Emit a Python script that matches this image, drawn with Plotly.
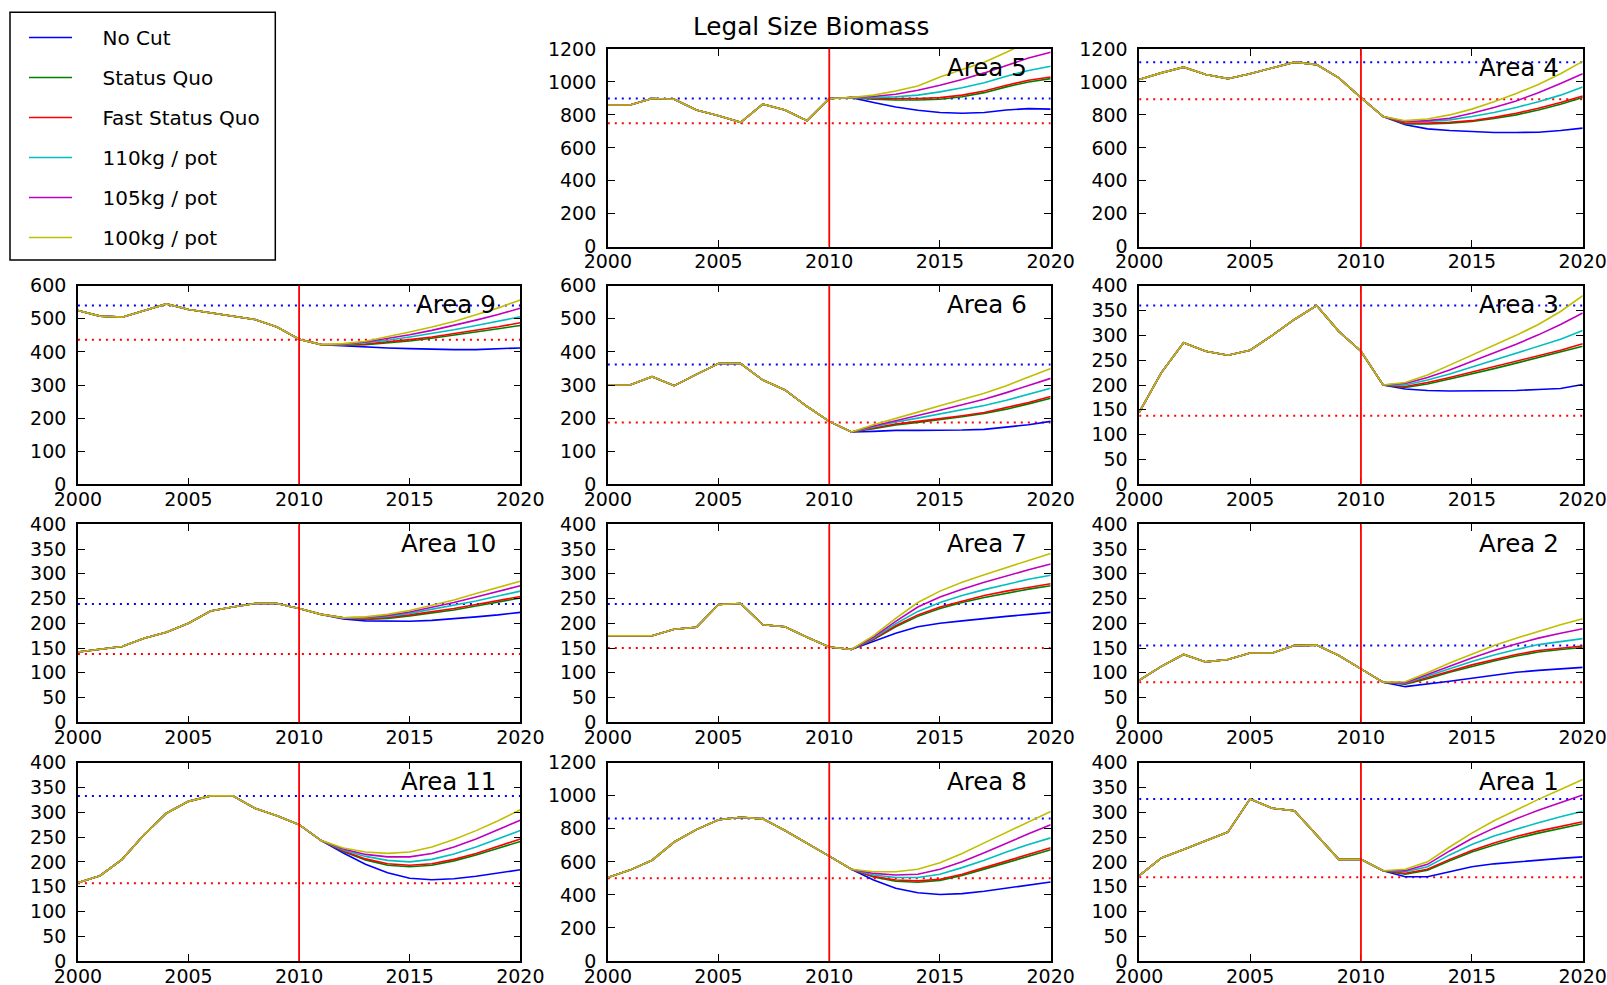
import plotly.graph_objects as go

YEARS = list(range(2000, 2021))
SCENARIOS = ["No Cut", "Status Quo", "Fast Status Quo", "110kg / pot", "105kg / pot", "100kg / pot"]
COLORS = ["#0000ff", "#008000", "#ff0000", "#00bfbf", "#bf00bf", "#bfbf00"]

AREAS = ["Area 5", "Area 4", "Area 9", "Area 6", "Area 3", "Area 10",
         "Area 7", "Area 2", "Area 11", "Area 8", "Area 1"]
AREA_ROW = [0, 0, 1, 1, 1, 2, 2, 2, 3, 3, 3]
AREA_COL = [1, 2, 0, 1, 2, 0, 1, 2, 0, 1, 2]
Y_MAX = [1200, 1200, 600, 600, 400, 400, 400, 400, 400, 1200, 400]
Y_STEP = [200, 200, 100, 100, 50, 50, 50, 50, 50, 200, 50]

# history 2000-2011 (common to all scenarios)
area5_hist = [860, 860, 900, 895, 830, 795, 755, 865, 830, 765, 900, 905]
area4_hist = [1015, 1055, 1090, 1045, 1020, 1050, 1085, 1120, 1105, 1025, 905, 790]
area9_hist = [525, 508, 505, 525, 545, 528, 518, 507, 498, 475, 438, 422]
area6_hist = [300, 300, 325, 298, 332, 365, 365, 315, 285, 235, 190, 158]
area3_hist = [145, 225, 285, 268, 260, 270, 300, 332, 360, 308, 268, 200]
area10_hist = [142, 148, 153, 170, 182, 200, 225, 233, 240, 240, 230, 218]
area7_hist = [175, 175, 175, 188, 192, 238, 240, 197, 193, 172, 152, 147]
area2_hist = [85, 113, 137, 122, 127, 140, 140, 155, 156, 135, 108, 81]
area11_hist = [158, 172, 205, 255, 298, 322, 333, 333, 308, 293, 275, 243]
area8_hist = [505, 550, 610, 720, 795, 855, 870, 860, 790, 715, 635, 555]
area1_hist = [172, 208, 225, 242, 260, 327, 308, 303, 255, 205, 205, 182]

# projections 2012-2020, one row per scenario (same order as SCENARIOS)
area5_proj = [
    [875, 848, 828, 815, 810, 815, 830, 838, 835],
    [895, 890, 890, 895, 910, 935, 970, 1000, 1020],
    [900, 898, 900, 905, 920, 945, 980, 1010, 1030],
    [905, 910, 920, 940, 965, 995, 1035, 1070, 1095],
    [912, 925, 950, 980, 1015, 1055, 1100, 1145, 1180],
    [920, 945, 975, 1030, 1075, 1120, 1180, 1245, 1310],
]
area4_proj = [
    [740, 715, 705, 698, 693, 693, 695, 705, 720],
    [745, 745, 750, 760, 778, 800, 830, 865, 905],
    [750, 750, 755, 765, 785, 810, 840, 875, 915],
    [758, 760, 770, 790, 815, 845, 880, 920, 970],
    [760, 765, 780, 810, 845, 885, 935, 990, 1050],
    [765, 775, 800, 835, 880, 930, 985, 1050, 1125],
]
area9_proj = [
    [418, 415, 412, 410, 408, 407, 407, 409, 412],
    [420, 422, 427, 433, 441, 450, 460, 470, 480],
    [421, 424, 430, 437, 445, 455, 466, 476, 488],
    [422, 428, 435, 445, 455, 467, 480, 493, 506],
    [423, 430, 440, 452, 465, 480, 496, 513, 532],
    [425, 432, 445, 460, 475, 492, 512, 533, 557],
]
area6_proj = [
    [160, 163, 163, 163, 164, 166, 172, 180, 190],
    [168, 179, 187, 195, 204, 214, 227, 243, 260],
    [170, 182, 190, 198, 207, 217, 231, 247, 265],
    [173, 188, 200, 212, 225, 238, 254, 272, 290],
    [176, 193, 208, 224, 240, 257, 277, 298, 320],
    [180, 200, 218, 237, 256, 275, 298, 323, 350],
]
area3_proj = [
    [192, 189, 188, 188, 188, 189, 191, 193, 201],
    [195, 202, 212, 222, 233, 244, 255, 266, 278],
    [197, 205, 215, 226, 237, 248, 259, 270, 283],
    [200, 210, 222, 236, 250, 264, 279, 292, 310],
    [203, 215, 230, 247, 264, 282, 301, 322, 345],
    [205, 220, 240, 260, 280, 300, 322, 348, 380],
]
area10_proj = [
    [209, 205, 204, 204, 206, 209, 213, 217, 222],
    [211, 208, 210, 215, 221, 227, 235, 243, 251],
    [211, 209, 212, 217, 223, 230, 238, 246, 254],
    [211, 211, 214, 220, 228, 236, 245, 255, 265],
    [211, 212, 216, 223, 232, 242, 253, 264, 276],
    [211, 213, 218, 226, 236, 247, 260, 272, 285],
]
area7_proj = [
    [163, 180, 193, 200, 205, 210, 214, 218, 222],
    [167, 193, 214, 230, 242, 252, 261, 269, 276],
    [168, 195, 217, 233, 245, 256, 265, 273, 280],
    [170, 199, 224, 242, 256, 268, 279, 289, 297],
    [172, 204, 233, 253, 269, 283, 296, 308, 320],
    [175, 210, 242, 265, 283, 298, 313, 327, 341],
]
area2_proj = [
    [72, 77, 83, 89, 95, 101, 105, 108, 111],
    [77, 88, 101, 113, 124, 134, 142, 147, 151],
    [78, 90, 103, 116, 127, 137, 145, 150, 154],
    [79, 93, 108, 123, 136, 147, 157, 163, 169],
    [80, 96, 113, 130, 145, 158, 170, 180, 189],
    [82, 100, 120, 138, 155, 170, 184, 197, 209],
]
area11_proj = [
    [218, 195, 178, 167, 164, 166, 171, 177, 184],
    [221, 204, 193, 190, 193, 202, 214, 227, 241],
    [222, 206, 196, 193, 196, 205, 217, 231, 246],
    [224, 211, 203, 200, 205, 216, 230, 246, 263],
    [226, 215, 210, 210, 217, 230, 246, 265, 284],
    [228, 220, 217, 220, 230, 245, 263, 283, 305],
]
area8_proj = [
    [490, 440, 413, 402, 408, 422, 440, 458, 478],
    [508, 483, 477, 488, 517, 556, 595, 635, 673],
    [512, 490, 485, 495, 525, 565, 605, 645, 685],
    [520, 505, 505, 525, 565, 610, 660, 705, 745],
    [530, 520, 525, 555, 600, 655, 715, 770, 825],
    [540, 540, 555, 595, 650, 715, 780, 845, 905],
]
area1_proj = [
    [170, 170, 180, 190, 196, 200, 204, 207, 210],
    [175, 183, 202, 220, 234, 247, 258, 268, 277],
    [177, 185, 205, 223, 238, 251, 262, 272, 281],
    [180, 190, 214, 235, 252, 266, 279, 291, 302],
    [182, 195, 222, 247, 268, 287, 304, 320, 335],
    [185, 200, 230, 258, 283, 305, 326, 346, 366],
]

# reference levels (upper blue dotted, lower red dotted)
area5_ref = [900, 750]
area4_ref = [1120, 895]
area9_ref = [540, 437]
area6_ref = [362, 187]
area3_ref = [360, 138]
area10_ref = [239, 138]
area7_ref = [239, 150]
area2_ref = [155, 81]
area11_ref = [333, 157]
area8_ref = [863, 500]
area1_ref = [327, 169]

HIST = [area5_hist, area4_hist, area9_hist, area6_hist, area3_hist, area10_hist,
        area7_hist, area2_hist, area11_hist, area8_hist, area1_hist]
PROJ = [area5_proj, area4_proj, area9_proj, area6_proj, area3_proj, area10_proj,
        area7_proj, area2_proj, area11_proj, area8_proj, area1_proj]
REFS = [area5_ref, area4_ref, area9_ref, area6_ref, area3_ref, area10_ref,
        area7_ref, area2_ref, area11_ref, area8_ref, area1_ref]

CUT_YEAR = 2010

W, H = 1607, 985
COL_X = [(77.9, 520.3), (607.8, 1050.7), (1139.2, 1582.7)]
ROW_Y = [(49.0, 246.7), (285.7, 484.3), (524.3, 722.3), (762.7, 961.0)]

FONT = "DejaVu Sans"
PAD = "\u00a0" * 4  # gap between legend sample line and label

fig = go.Figure()
layout = dict(
    width=W, height=H, margin=dict(l=0, r=0, t=0, b=0, autoexpand=False),
    paper_bgcolor="white", plot_bgcolor="white",
    font=dict(family=FONT, color="black", size=19),
    showlegend=True,
    shapes=[], annotations=[],
)

for i, name in enumerate(AREAS):
    n = i + 1
    xa = "x" if n == 1 else f"x{n}"
    ya = "y" if n == 1 else f"y{n}"
    r, c = AREA_ROW[i], AREA_COL[i]
    x0, x1 = COL_X[c]
    yt, yb = ROW_Y[r]
    axis_common = dict(
        showgrid=False, zeroline=False, showline=True, linecolor="black",
        linewidth=1.5, mirror="allticks", ticks="inside", ticklen=7,
        tickwidth=1.2, tickcolor="black", automargin=False,
        tickfont=dict(family=FONT, size=19, color="black"),
    )
    layout[f"xaxis{n if n > 1 else ''}"] = dict(
        domain=[x0 / W, x1 / W], anchor=ya, range=[YEARS[0], YEARS[-1]],
        tickmode="linear", tick0=2000, dtick=5, ticklabelstandoff=-3, **axis_common)
    layout[f"yaxis{n if n > 1 else ''}"] = dict(
        domain=[1 - yb / H, 1 - yt / H], anchor=xa, range=[0, Y_MAX[i]],
        tickmode="linear", tick0=0, dtick=Y_STEP[i], ticklabelstandoff=6, **axis_common)

    # reference dotted lines
    for ref, col in zip(REFS[i], ["#0000ff", "#ff0000"]):
        fig.add_trace(go.Scatter(
            x=[YEARS[0], YEARS[-1]], y=[ref, ref], mode="lines",
            line=dict(color=col, width=2, dash="2px,5px"),
            xaxis=xa, yaxis=ya, showlegend=False, hoverinfo="skip"))

    for s, (scen, col) in enumerate(zip(SCENARIOS, COLORS)):
        fig.add_trace(go.Scatter(
            x=YEARS, y=HIST[i] + PROJ[i][s], mode="lines", name=PAD + scen,
            line=dict(color=col, width=1.6), xaxis=xa, yaxis=ya,
            legendgroup=scen, showlegend=(i == 0)))

    layout["shapes"].append(dict(
        type="line", xref=xa, yref=f"{ya} domain", x0=CUT_YEAR, x1=CUT_YEAR,
        y0=0, y1=1, line=dict(color="#ff0000", width=1.8)))
    layout["annotations"].append(dict(
        text=name, xref=f"{xa} domain", yref=f"{ya} domain", x=1, y=1,
        xanchor="right", yanchor="middle", xshift=-22, yshift=-19,
        showarrow=False, font=dict(family=FONT, size=24.5, color="black")))

layout["annotations"].append(dict(
    text="Legal Size Biomass", xref="paper", yref="paper", x=811 / W, y=1 - 27 / H,
    xanchor="center", yanchor="middle", showarrow=False,
    font=dict(family=FONT, size=24.7, color="black")))

# legend frame
layout["shapes"].append(dict(
    type="rect", xref="paper", yref="paper", x0=10 / W, x1=275.3 / W,
    y0=1 - 260 / H, y1=1 - 12.3 / H, line=dict(color="black", width=1.5),
    fillcolor="rgba(0,0,0,0)"))

layout["legend"] = dict(
    x=24 / W, y=1 - 18 / H, xanchor="left", yanchor="top",
    bgcolor="rgba(0,0,0,0)", borderwidth=0, tracegroupgap=11, itemwidth=43,
    font=dict(family=FONT, size=20, color="black"))

fig.update_layout(**layout)
fig.write_html("out.html")
